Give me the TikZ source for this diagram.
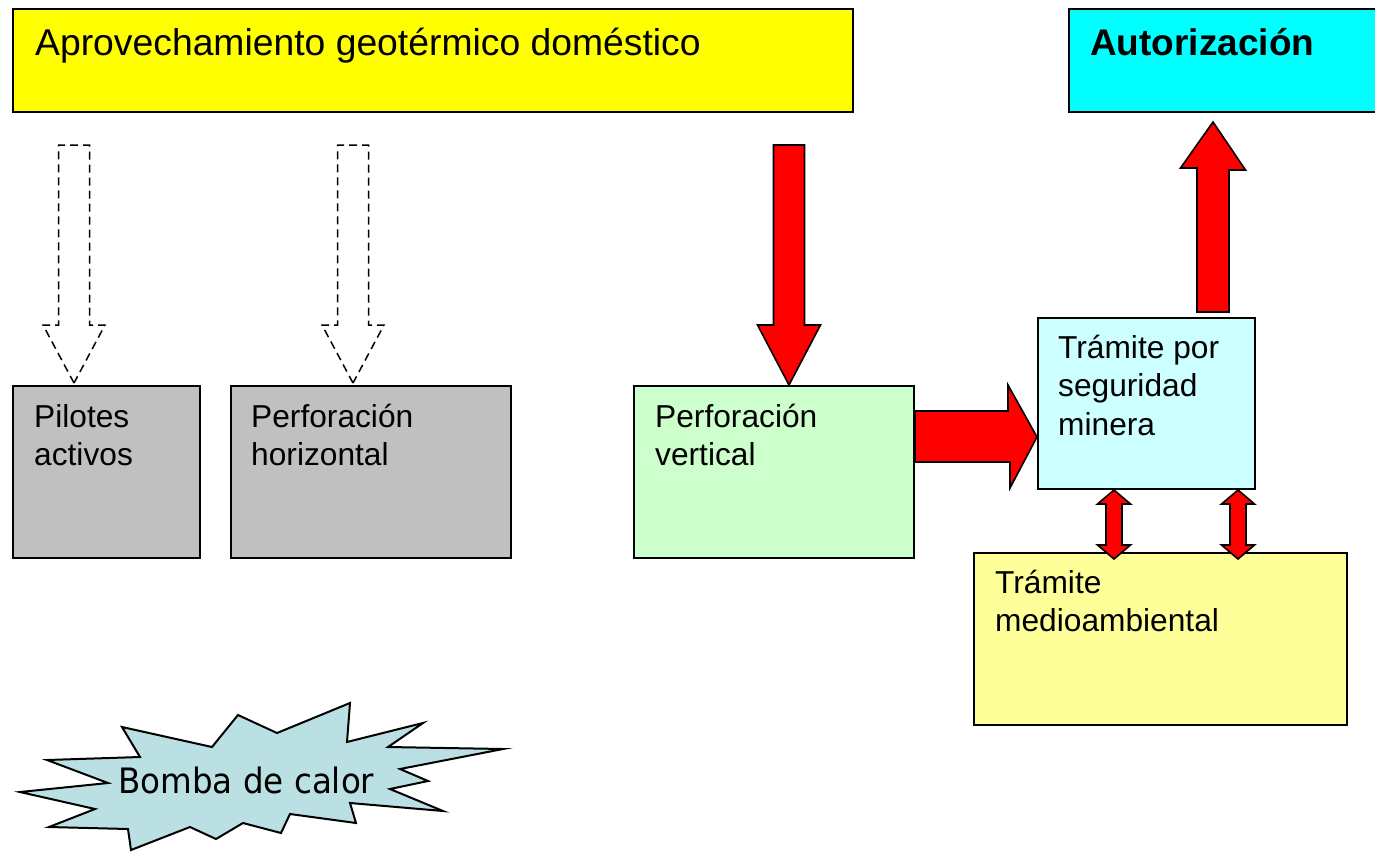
\documentclass[tikz,border=0pt]{standalone}
\usepackage{fontspec}
\setmainfont{Liberation Sans}
\newfontfamily\starfont[FakeStretch=0.93]{DejaVu Sans}
\usetikzlibrary{calc}
\definecolor{cyel}{HTML}{FFFF00}
\definecolor{ccyan}{HTML}{00FFFF}
\definecolor{cgrey}{HTML}{C0C0C0}
\definecolor{cgreen}{HTML}{CCFFCC}
\definecolor{clcyan}{HTML}{CCFFFF}
\definecolor{clyel}{HTML}{FFFF99}
\definecolor{cred}{HTML}{FF0000}
\definecolor{cstar}{HTML}{BAE0E4}
\begin{document}
\begin{tikzpicture}[x=1pt,y=-1pt,
  box/.style={draw=black, line width=2pt, rectangle, inner sep=0pt, anchor=north west},
  txt/.style={anchor=base west, inner sep=0pt, align=left, font=\fontsize{31.7}{38.5}\selectfont},
  bigtxt/.style={anchor=base west, inner sep=0pt, font=\fontsize{37.3}{44}\selectfont},
  redblk/.style={draw=black, line width=1.6pt, fill=cred, line join=miter},
  dashblk/.style={draw=black, line width=1.5pt, dash pattern=on 8pt off 5pt, fill=white}]
\useasboundingbox (0,0) rectangle (1375,852);
\clip (0,0) rectangle (1375,852);
\fill[white] (0,0) rectangle (1375,852);

% boxes
\node[box, fill=cyel, minimum width=840pt, minimum height=103pt] (title) at (12,8) {};
\node[box, fill=ccyan, minimum width=330pt, minimum height=103pt] (aut) at (1068,8) {};
\node[box, fill=cgrey, minimum width=187pt, minimum height=172pt] (pil) at (12,385) {};
\node[box, fill=cgrey, minimum width=280pt, minimum height=172pt] (hor) at (230,385) {};
\node[box, fill=cgreen, minimum width=280pt, minimum height=172pt] (ver) at (633,385) {};
\node[box, fill=clcyan, minimum width=217pt, minimum height=171pt] (seg) at (1037,317) {};
\node[box, fill=clyel, minimum width=373pt, minimum height=172pt] (med) at (973,552) {};

% texts (base anchor = baseline of the last line)
\node[bigtxt] (titleT) at ($(title.north west)+(23,47)$) {Aprovechamiento geotérmico doméstico};
\node[bigtxt, font=\fontsize{37}{44}\selectfont\bfseries] (autT) at ($(aut.north west)+(22,47)$) {Autorización};
\node[txt] (pilT) at ($(pil.north west)+(22,80.5)$) {Pilotes\\activos};
\node[txt] (horT) at ($(hor.north west)+(21,80.5)$) {Perforación\\horizontal};
\node[txt] (verT) at ($(ver.north west)+(22,80.5)$) {Perforación\\vertical};
\node[txt] (segT) at ($(seg.north west)+(21,118)$) {Trámite por\\seguridad\\minera};
\node[txt] (medT) at ($(med.north west)+(22,79.5)$) {Trámite\\medioambiental};

% dashed block arrows
\coordinate (t1) at ($(pil.north west)+(62,-2)$);
\coordinate (t2) at ($(hor.north west)+(123,-2)$);
\foreach \t in {t1,t2}{
  \draw[dashblk] (\t) -- ++(-31,-58) -- ++(15.5,0) -- ++(0,-180) -- ++(31,0) -- ++(0,180) -- ++(15.5,0) -- cycle;
}

% red down arrow
\coordinate (t3) at ($(ver.north west)+(156,0)$);
\draw[redblk] (t3) -- ++(-31.5,-60) -- ++(16,0) -- ++(0,-180) -- ++(31,0) -- ++(0,180) -- ++(16,0) -- cycle;

% red right arrow
\coordinate (t4) at ($(seg.north west)+(0,120)$);
\draw[redblk] (t4) -- ++(-29,-52) -- ++(0,26) -- (ver.east |- 0,411) -- (ver.east |- 0,462) -- ++(95,0) -- ++(0,26) -- cycle;

% red up arrow
\coordinate (t5) at ($(aut.south west)+(145,9)$);
\draw[redblk] (t5) -- ++(32.5,48) -- ++(-16.5,0) -- ($(seg.north west)+(192,-5)$) -- ++(-32,0) -- ++(0,-144) -- ++(-16.5,0) -- cycle;

% double arrows
\coordinate (t6) at ($(seg.south west)+(77,0)$);
\coordinate (t7) at ($(seg.south west)+(201,0)$);
\foreach \t in {t6,t7}{
  \draw[redblk] (\t) -- ++(16.5,14) -- ++(-8.5,0) -- ++(0,41) -- ++(8.5,0) -- ++(-16.5,14) -- ++(-16.5,-14) -- ++(8.5,0) -- ++(0,-41) -- ++(-8.5,0) -- cycle;
}

% star
\draw[fill=cstar, draw=black, line width=2pt, line join=miter]
  (122,727) -- (212,747) -- (238,715) -- (277,733) -- (350,703) -- (347,742) -- (423,723) -- (388,747) -- (503,749) -- (400,769) -- (428,781) -- (390,789) -- (443,811) -- (350,803) -- (356,823) -- (290,814) -- (281,833) -- (243,823) -- (216,839) -- (190,827) -- (131,850) -- (128,829) -- (49,827) -- (95,809) -- (20,792) -- (108,783) -- (47,760) -- (140,757) -- cycle;
\node[anchor=base west, inner sep=0pt, font=\starfont\fontsize{35}{40}\selectfont] (bomba) at (118,793) {Bomba de calor};
\end{tikzpicture}
\end{document}
